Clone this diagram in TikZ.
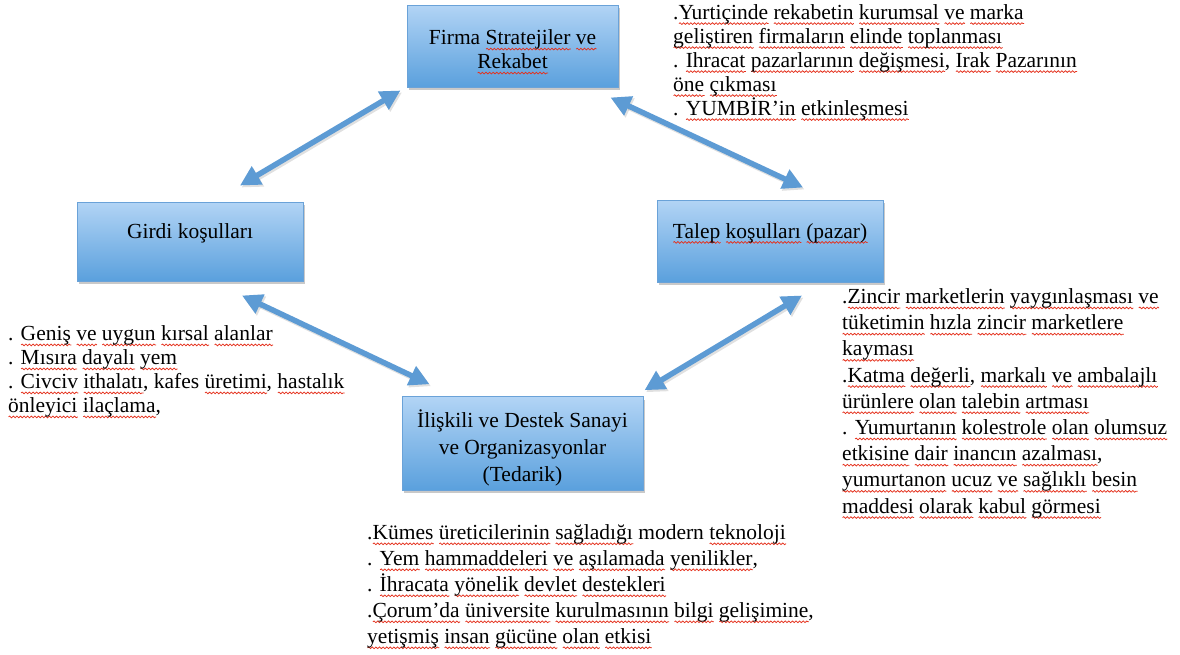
\documentclass[tikz,border=0pt]{standalone}
\usepackage{fontspec}
\setmainfont{Liberation Serif}
\usetikzlibrary{arrows.meta,shadows,calc,decorations.pathmorphing}

\definecolor{arrowblue}{HTML}{5D9BD4}
\definecolor{boxtop}{HTML}{B2D4F5}
\definecolor{boxbottom}{HTML}{5AA0DD}
\definecolor{boxline}{HTML}{6AA2D8}
\definecolor{squig}{HTML}{E5301C}

% red wavy underline under a single word (spell-check mark)
\newsavebox\sqwbox
\newcommand\sqw[1]{\sbox\sqwbox{#1}%
  \rlap{\tikz[baseline=0pt]{\draw[squig, line width=0.75pt,
      decoration={snake, amplitude=0.85pt, segment length=3.6pt}, decorate]
      (0pt,-4.4pt) -- (\wd\sqwbox,-4.4pt);}}%
  \usebox\sqwbox}

\begin{document}
\begin{tikzpicture}[x=1pt,y=-1pt,
  box/.style={draw=boxline, line width=1pt, top color=boxtop, bottom color=boxbottom,
    drop shadow={shadow xshift=2pt, shadow yshift=-3pt, opacity=0.35, fill=black!60},
    align=center, inner sep=4pt, font=\fontsize{21.5}{24}\selectfont},
  notes/.style={anchor=north west, inner sep=0pt, align=left},
  link/.style={draw=arrowblue, line width=5.5pt,
    {Triangle[length=20pt,width=20pt]}-{Triangle[length=20pt,width=20pt]}},
  linkshade/.style={draw=black, opacity=0.12, line width=5.5pt,
    transform canvas={shift={(1.5pt,-2pt)}},
    {Triangle[length=20pt,width=20pt]}-{Triangle[length=20pt,width=20pt]}}
]
\fill[white] (0,0) rectangle (1180,654);
\useasboundingbox (0,0) rectangle (1180,654);

% the four condition boxes
\node[box, minimum width=211pt, minimum height=82pt] (firma) at (512.5,46)
  {\rule{0pt}{27pt}Firma \sqw{Stratejiler} \sqw{ve}\\\sqw{Rekabet}};
\node[box, minimum width=226pt, minimum height=79pt, text height=15pt, text depth=21pt] (girdi) at (190,241.5)
  {Girdi koşulları};
\node[box, minimum width=226pt, minimum height=82pt, text height=15pt, text depth=21pt] (talep) at (770,241)
  {\sqw{Talep} \sqw{koşulları} \sqw{(pazar)}};
\node[box, minimum width=241pt, minimum height=93pt, font=\fontsize{21.5}{27}\selectfont] (tedarik) at (522.5,443.5)
  {\rule{0pt}{27pt}İlişkili ve Destek Sanayi\\ve Organizasyonlar\\(Tedarik)};

% notes beside each box
\node[notes, font=\fontsize{21.5}{24}\selectfont] (firmanot) at (673,2.2)
  {\strut.\sqw{Yurtiçinde} \sqw{rekabetin} \sqw{kurumsal} \sqw{ve} \sqw{marka}\\
   \sqw{geliştiren} \sqw{firmaların} \sqw{elinde} \sqw{toplanması}\\
   . \sqw{Ihracat} \sqw{pazarlarının} \sqw{değişmesi}, \sqw{Irak} \sqw{Pazarının}\\
   \sqw{öne} \sqw{çıkması}\\
   . \sqw{YUMBİR’in} \sqw{etkinleşmesi}};

\node[notes, font=\fontsize{21.5}{24}\selectfont] (girdinot) at (8,323.5)
  {\strut. \sqw{Geniş} \sqw{ve} \sqw{uygun} \sqw{kırsal} \sqw{alanlar}\\
   . \sqw{Mısıra} \sqw{dayalı} \sqw{yem}\\
   . \sqw{Civciv} \sqw{ithalatı}, kafes \sqw{üretimi}, \sqw{hastalık}\\
   \sqw{önleyici} \sqw{ilaçlama},};

\node[notes, font=\fontsize{21.5}{26.2}\selectfont] (talepnot) at (842,285)
  {\strut.\sqw{Zincir} \sqw{marketlerin} \sqw{yaygınlaşması} \sqw{ve}\\
   \sqw{tüketimin} \sqw{hızla} \sqw{zincir} \sqw{marketlere}\\
   \sqw{kayması}\\
   .\sqw{Katma} \sqw{değerli}, \sqw{markalı} \sqw{ve} \sqw{ambalajlı}\\
   \sqw{ürünlere} \sqw{olan} \sqw{talebin} \sqw{artması}\\
   . \sqw{Yumurtanın} \sqw{kolestrole} \sqw{olan} \sqw{olumsuz}\\
   \sqw{etkisine} \sqw{dair} \sqw{inancın} \sqw{azalması},\\
   \sqw{yumurtanon} \sqw{ucuz} \sqw{ve} \sqw{sağlıklı} \sqw{besin}\\
   \sqw{maddesi} \sqw{olarak} \sqw{kabul} \sqw{görmesi}};

\node[notes, font=\fontsize{21.5}{26}\selectfont] (tedariknot) at (367,521)
  {\strut.\sqw{Kümes} \sqw{üreticilerinin} \sqw{sağladığı} modern \sqw{teknoloji}\\
   . \sqw{Yem} \sqw{hammaddeleri} \sqw{ve} \sqw{aşılamada} \sqw{yenilikler},\\
   . \sqw{İhracata} \sqw{yönelik} \sqw{devlet} \sqw{destekleri}\\
   .\sqw{Çorum’da} \sqw{üniversite} \sqw{kurulmasının} \sqw{bilgi} \sqw{gelişimine},\\
   \sqw{yetişmiş} \sqw{insan} \sqw{gücüne} \sqw{olan} \sqw{etkisi}};

% arrow end points, set just off the boxes
\coordinate (fg) at ($(firma.south west)+(-6,3)$);
\coordinate (gf) at ($(girdi.north)+(50,-16)$);
\coordinate (ft) at ($(firma.south east)+(-8,10)$);
\coordinate (tf) at ($(talep.north)+(33,-12)$);
\coordinate (gt) at ($(girdi.south)+(52,14)$);
\coordinate (tg) at ($(tedarik.north west)+(28,-12)$);
\coordinate (td) at ($(talep.south)+(32,13)$);
\coordinate (dt) at ($(tedarik.north east)+(1,-6)$);

% two-way links between the conditions
\foreach \p/\q in {fg/gf, ft/tf, gt/tg, td/dt}{
  \draw[linkshade] (\p) -- (\q);
  \draw[link] (\p) -- (\q);
}
\end{tikzpicture}
\end{document}
